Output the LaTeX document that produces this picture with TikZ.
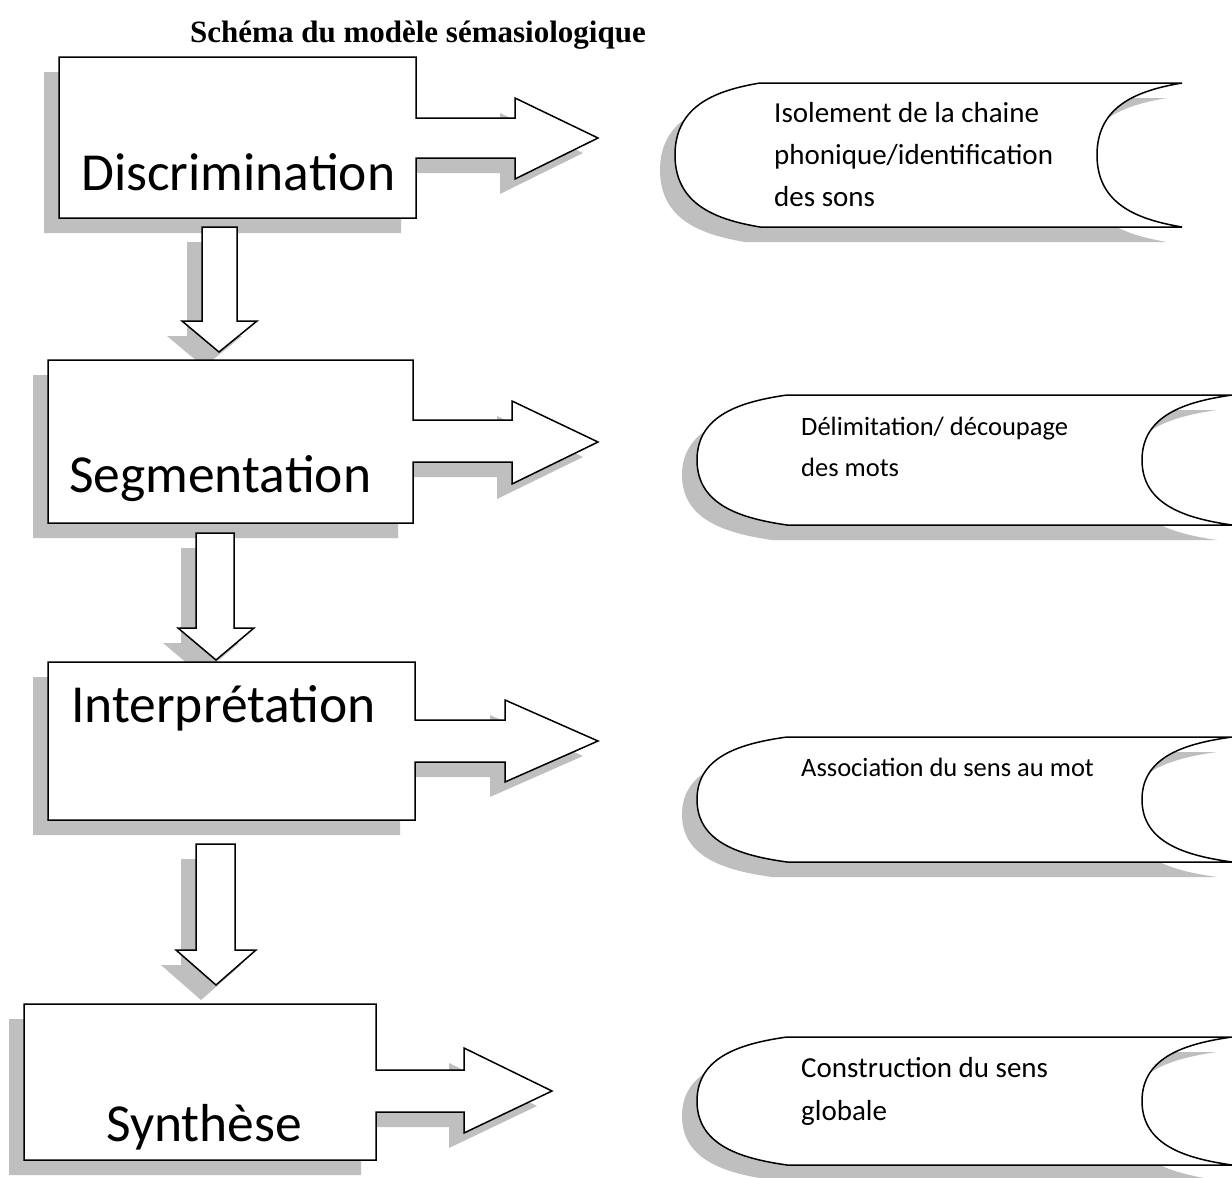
\documentclass[tikz,border=0pt]{standalone}
\usepackage{fontspec}
\newfontfamily\carl{Carlito}
\newfontfamily\tserif{Liberation Serif}
\definecolor{shadowgray}{RGB}{191,191,191}
\tikzset{
  shp/.style={draw=black, fill=white, line width=1.5pt, line join=miter},
  shd/.style={fill=shadowgray, shift={(-15,15)}},
  bigtxt/.style={font=\carl\fontsize{53.5}{60}\selectfont, anchor=base west, inner sep=0pt},
  smalltxt/.style={font=\carl\fontsize{26.5}{32}\selectfont, anchor=base west, inner sep=0pt},
  largetxt/.style={font=\carl\fontsize{29}{34}\selectfont, anchor=base west, inner sep=0pt},
  titletxt/.style={font=\tserif\bfseries\fontsize{31}{36}\selectfont, anchor=base, inner sep=0pt}
}
% box with right arrow (callouts)
\def\boxA{(59,57) -- (416,57) -- (416,118) -- (515,118) -- (515,98) -- (598,138) -- (515,179) -- (515,158) -- (416,158) -- (416,218) -- (59,218) -- cycle}
\def\boxB{(48,360) -- (413,360) -- (413,420) -- (512,420) -- (512,401) -- (598,442) -- (512,484) -- (512,462) -- (413,462) -- (413,523) -- (48,523) -- cycle}
\def\boxC{(48,662) -- (415,662) -- (415,720) -- (505,720) -- (505,700) -- (598,741) -- (505,782) -- (505,762) -- (415,762) -- (415,820) -- (48,820) -- cycle}
\def\boxD{(24,1004) -- (376,1004) -- (376,1070) -- (464,1070) -- (464,1048) -- (552,1091) -- (464,1133) -- (464,1112) -- (376,1112) -- (376,1160) -- (24,1160) -- cycle}
% down arrows
\def\downA{(202,227) -- (237,227) -- (237,321) -- (257,321) -- (219,352) -- (182,321) -- (202,321) -- cycle}
\def\downB{(196,533) -- (234,533) -- (234,628) -- (254,628) -- (216,660) -- (178,628) -- (196,628) -- cycle}
\def\downC{(196,844) -- (235,844) -- (235,950) -- (256,950) -- (216,985) -- (176,950) -- (196,950) -- cycle}
% horizontal scroll: L T B R w
\newcommand\scrollp[5]{({#1+#5},#2) -- (#4,#2)
  .. controls ({#4-0.5*#5},{#2+0.05*(#3-#2)}) and ({#4-#5},{(#2+#3)/2-0.35*(#3-#2)}) .. ({#4-#5},{(#2+#3)/2})
  .. controls ({#4-#5},{(#2+#3)/2+0.35*(#3-#2)}) and ({#4-0.5*#5},{#3-0.05*(#3-#2)}) .. (#4,#3)
  -- ({#1+#5},#3)
  .. controls ({#1+0.5*#5},{#3-0.05*(#3-#2)}) and (#1,{(#2+#3)/2+0.35*(#3-#2)}) .. (#1,{(#2+#3)/2})
  .. controls (#1,{(#2+#3)/2-0.35*(#3-#2)}) and ({#1+0.5*#5},{#2+0.05*(#3-#2)}) .. ({#1+#5},#2) -- cycle}
\begin{document}
\begin{tikzpicture}[x=1pt,y=-1pt]
\useasboundingbox (0,0) rectangle (1232,1178);
\clip (0,0) rectangle (1232,1178);
\fill[white] (0,0) rectangle (1232,1178);
% shadows
\fill[shd] \boxA;
\fill[shd] \boxB;
\fill[shd] \boxC;
\fill[shd] \boxD;
\fill[shd] \downA;
\fill[shd] \downB;
\fill[shd] \downC;
\fill[shd] \scrollp{675}{83}{227}{1182}{85};
\fill[shd] \scrollp{697}{395}{525}{1232}{90};
\fill[shd] \scrollp{697}{737}{862}{1232}{90};
\fill[shd] \scrollp{697}{1037}{1165}{1232}{90};
% shapes
\draw[shp] \boxA;
\draw[shp] \boxB;
\draw[shp] \boxC;
\draw[shp] \boxD;
\draw[shp] \downA;
\draw[shp] \downB;
\draw[shp] \downC;
\draw[shp] \scrollp{675}{83}{227}{1182}{85};
\draw[shp] \scrollp{697}{395}{525}{1232}{90};
\draw[shp] \scrollp{697}{737}{862}{1232}{90};
\draw[shp] \scrollp{697}{1037}{1165}{1232}{90};
% texts
\node[titletxt] (title) at (418,42) {Schéma du modèle sémasiologique};
\node[bigtxt] (discr) at (81,190) {Discrimination};
\node[bigtxt] (segm) at (69,492) {Segmentation};
\node[bigtxt] (interp) at (71,722) {Interprétation};
\node[bigtxt] (synth) at (106,1141) {Synthèse};
\node[largetxt] (s1a) at (774,122) {Isolement de la chaine};
\node[largetxt] (s1b) at (774,164) {phonique/identification};
\node[largetxt] (s1c) at (774,206) {des sons};
\node[smalltxt] (s2a) at (801,435) {Délimitation/ découpage};
\node[smalltxt] (s2b) at (801,476) {des mots};
\node[smalltxt] (s3a) at (801,776) {Association du sens au mot};
\node[largetxt] (s4a) at (801,1077) {Construction du sens};
\node[largetxt] (s4b) at (801,1120) {globale};
\end{tikzpicture}
\end{document}
